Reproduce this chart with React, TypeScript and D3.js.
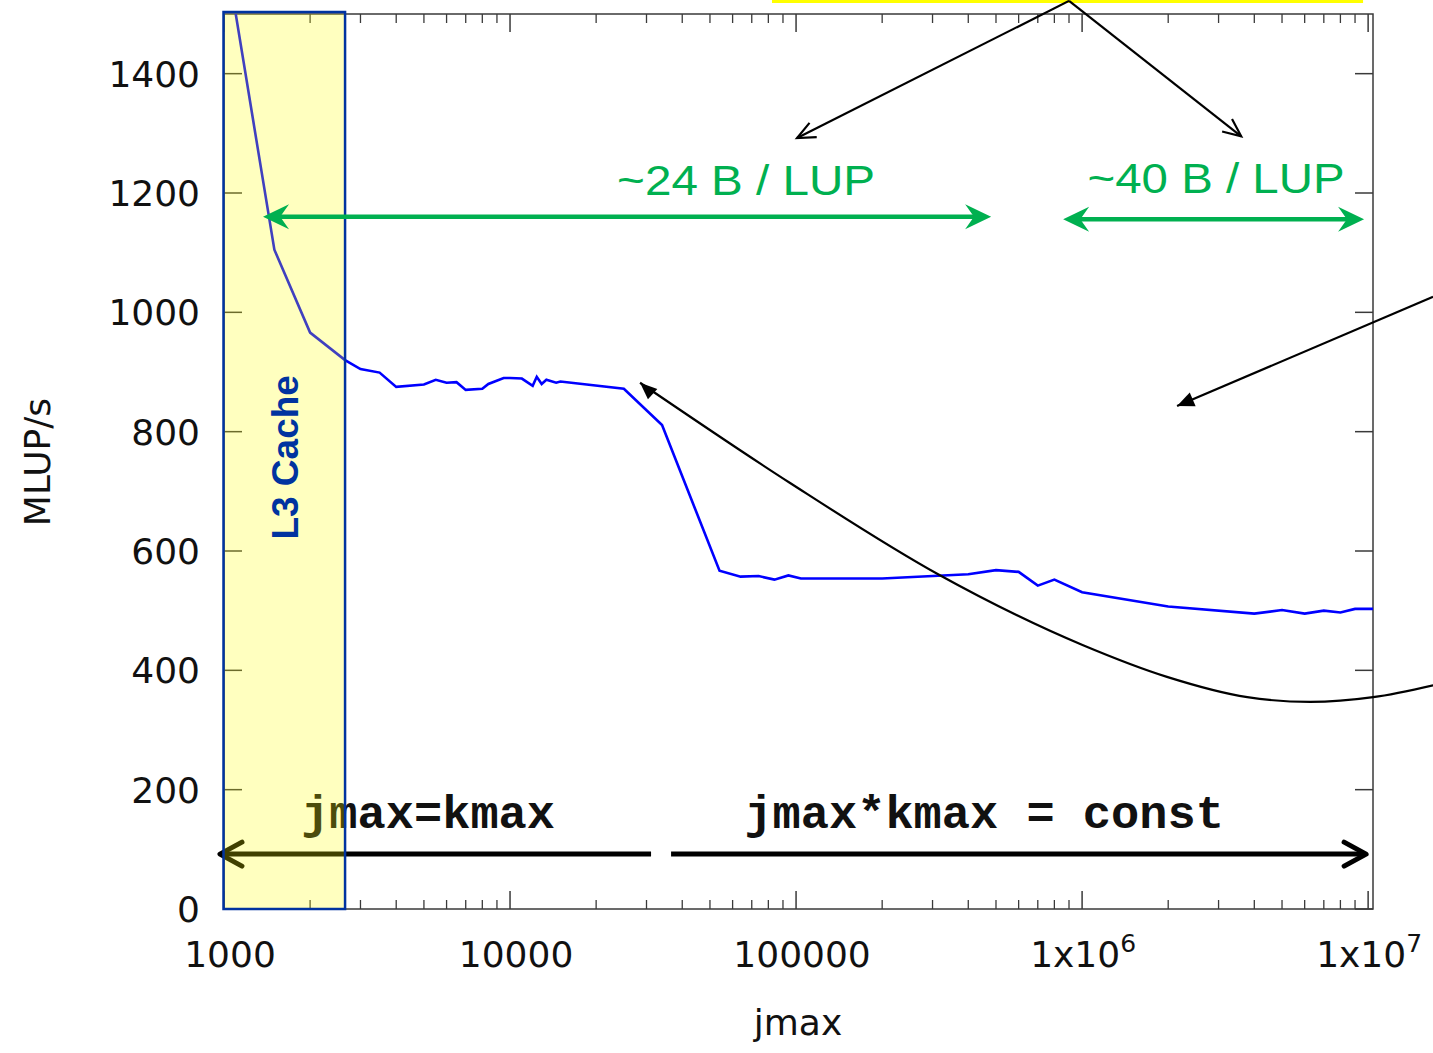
import React from 'react';
import * as d3 from 'd3';

// measured performance vs. inner loop length
const jmax = [
  1000, 1500, 2000, 2650, 3000, 3500, 4000, 5000, 5500, 6000, 6500, 7000, 8000, 8400, 9500,
  10000, 11000, 12000, 12400, 12900, 13400, 14500, 15000, 25000, 34000, 54000, 64000, 74000,
  84000, 94000, 104000, 200000, 400000, 500000, 600000, 700000, 800000, 1000000, 2000000,
  4000000, 5000000, 6000000, 7000000, 8000000, 9000000, 10400000,
];
const mlups = [
  1620, 1105, 966, 920, 905, 899, 875, 879, 887, 882, 883, 870, 872, 880, 890,
  890, 889, 877, 892, 880, 887, 882, 884, 872, 811, 567, 557, 558,
  552, 559, 554, 554, 561, 568, 565, 542, 552, 531, 507,
  495, 501, 495, 500, 497, 503, 503,
];

const xTickValues = [1000, 10000, 100000, 1000000, 10000000];
const xTickLabels = ['1000', '10000', '100000', '1x10^6', '1x10^7'];
const yTickValues = [0, 200, 400, 600, 800, 1000, 1200, 1400];

// annotations, in data units (jmax, MLUP/s)
const cacheLimit = 2650;
const curveJmax = [28480, 95300, 313700, 1008000, 1980000, 3780000, 6270000, 10410000, 16870000];
const curveMlups = [882, 714, 561, 442, 389, 355, 347, 355, 375];
const pointerFrom = [16870000, 1026];
const pointerTo = [2148000, 843];
const forkFrom = [900500, 1522];
const forkLeft = [100800, 1292];
const forkRight = [3600000, 1295];
const green24 = { from: 1369, to: 480800, y: 1160, label: '~24 B / LUP', cx: 66900, ty: 1197, len: 258 };
const green40 = { from: 858500, to: 9680000, y: 1156, label: '~40 B / LUP', cx: 2940000, ty: 1200, len: 257 };
const bottomLeft = { from: 968, to: 31120, y: 92, label: 'jmax=kmax', cx: 5170 };
const bottomRight = { from: 36560, to: 9840000, y: 92, label: 'jmax*kmax = const', cx: 454500 };
const bottomTextY = 136;

const W = 1433;
const H = 1053;
const x = d3.scaleLog().domain([1000, 1.04e7]).range([224, 1373]);
const y = d3.scaleLinear().domain([0, 1500]).range([909, 14]);

type P = [number, number];

function head(tip: P, from: P, len: number, half: number, kind: 'fill' | 'open' | 'stealth') {
  const dx = tip[0] - from[0];
  const dy = tip[1] - from[1];
  const d = Math.hypot(dx, dy) || 1;
  const ux = dx / d, uy = dy / d;
  const nx = -uy, ny = ux;
  const bx = tip[0] - ux * len, by = tip[1] - uy * len;
  const p1: P = [bx + nx * half, by + ny * half];
  const p2: P = [bx - nx * half, by - ny * half];
  if (kind === 'open') return `M${p1[0]},${p1[1]}L${tip[0]},${tip[1]}L${p2[0]},${p2[1]}`;
  if (kind === 'stealth') {
    const n: P = [tip[0] - ux * len * 0.66, tip[1] - uy * len * 0.66];
    return `M${tip[0]},${tip[1]}L${p1[0]},${p1[1]}L${n[0]},${n[1]}L${p2[0]},${p2[1]}Z`;
  }
  return `M${tip[0]},${tip[1]}L${p1[0]},${p1[1]}L${p2[0]},${p2[1]}Z`;
}

const GreenArrow = ({ a }: { a: typeof green24 }) => {
  const l: P = [x(a.from), y(a.y)];
  const r: P = [x(a.to), y(a.y)];
  const c = '#00b050';
  return (
    <g>
      <line x1={l[0] + 16} y1={l[1]} x2={r[0] - 16} y2={r[1]} stroke={c} strokeWidth={4.5} />
      <path d={head(l, r, 26, 12.5, 'stealth')} fill={c} />
      <path d={head(r, l, 26, 12.5, 'stealth')} fill={c} />
      <text
        x={x(a.cx)}
        y={y(a.ty)}
        textAnchor="middle"
        fontFamily="'Liberation Sans', Arial, sans-serif"
        fontSize={43}
        fill={c}
        textLength={a.len}
        lengthAdjust="spacingAndGlyphs"
      >
        {a.label}
      </text>
    </g>
  );
};

export default function App() {
  const line = d3.line<number>().x((_, i) => x(jmax[i])).y(d => y(d));
  const curve = d3.line<number>().x((_, i) => x(curveJmax[i])).y(d => y(d)).curve(d3.curveMonotoneX);

  const minor: number[] = [];
  for (let e = 3; e <= 7; e++) {
    for (let k = 2; k <= 9; k++) {
      const v = k * Math.pow(10, e);
      if (v <= 1.04e7) minor.push(v);
    }
  }

  const axisColor = '#3a3a3a';
  const left = x.range()[0], right = x.range()[1];
  const top = y.range()[1], bottom = y.range()[0];

  const curveTip: P = [x(curveJmax[0]), y(curveMlups[0])];
  const curveNext: P = [x(curveJmax[0] * 1.1), y(curveMlups[0] - 18)];

  const pf: P = [x(pointerFrom[0]), y(pointerFrom[1])];
  const pt: P = [x(pointerTo[0]), y(pointerTo[1])];
  const ff: P = [x(forkFrom[0]), y(forkFrom[1])];
  const fl: P = [x(forkLeft[0]), y(forkLeft[1])];
  const fr: P = [x(forkRight[0]), y(forkRight[1])];

  const bl1: P = [x(bottomLeft.from), y(bottomLeft.y)];
  const bl2: P = [x(bottomLeft.to), y(bottomLeft.y)];
  const br1: P = [x(bottomRight.from), y(bottomRight.y)];
  const br2: P = [x(bottomRight.to), y(bottomRight.y)];

  const tickFont = "'DejaVu Sans', sans-serif";

  return (
    <svg width={W} height={H} style={{ position: 'absolute', left: 0, top: 0, background: '#fff' }}>
      <defs>
        <clipPath id="plot">
          <rect x={left} y={top} width={right - left} height={bottom - top} />
        </clipPath>
      </defs>
      <rect width={W} height={H} fill="#fff" />

      {/* highlight bar at the top edge */}
      <rect x={x(82400)} y={0} width={x(9.6e6) - x(82400)} height={3} fill="#ffff00" />

      {/* frame and ticks */}
      <rect x={left} y={top} width={right - left} height={bottom - top} fill="none" stroke={axisColor} strokeWidth={1.5} />
      {yTickValues.map(v => (
        <g key={v}>
          <line x1={left} x2={left + 18} y1={y(v)} y2={y(v)} stroke={axisColor} strokeWidth={1.5} />
          <line x1={right} x2={right - 18} y1={y(v)} y2={y(v)} stroke={axisColor} strokeWidth={1.5} />
          <text x={200} y={y(v)} dy="0.36em" textAnchor="end" fontFamily={tickFont} fontSize={36} fill="#111">
            {v}
          </text>
        </g>
      ))}
      {xTickValues.map((v, i) => {
        const [base, sup] = xTickLabels[i].split('^');
        return (
          <g key={v}>
            <line x1={x(v)} x2={x(v)} y1={bottom} y2={bottom - 18} stroke={axisColor} strokeWidth={1.5} />
            <line x1={x(v)} x2={x(v)} y1={top} y2={top + 18} stroke={axisColor} strokeWidth={1.5} />
            <text x={x(v) + (sup ? 1 : 6)} y={967} textAnchor="middle" fontFamily={tickFont} fontSize={36} fill="#111">
              {base}
              {sup && (
                <tspan fontSize={25} dy={-15}>
                  {sup}
                </tspan>
              )}
            </text>
          </g>
        );
      })}
      {minor.map(v => (
        <g key={v}>
          <line x1={x(v)} x2={x(v)} y1={bottom} y2={bottom - 9} stroke={axisColor} strokeWidth={1.3} />
          <line x1={x(v)} x2={x(v)} y1={top} y2={top + 9} stroke={axisColor} strokeWidth={1.3} />
        </g>
      ))}

      <text x={37} y={462} transform="rotate(-90 37 462)" textAnchor="middle" dy="0.35em" fontFamily={tickFont} fontSize={36} fill="#111">
        MLUP/s
      </text>
      <text x={798} y={1035} textAnchor="middle" fontFamily={tickFont} fontSize={36} fill="#111">
        jmax
      </text>

      {/* measured data */}
      <path d={line(mlups) || ''} fill="none" stroke="#0000ff" strokeWidth={2.6} clipPath="url(#plot)" />

      {/* black annotations */}
      <path d={curve(curveMlups) || ''} fill="none" stroke="#000" strokeWidth={2.2} />
      <path d={head(curveTip, curveNext, 17, 7, 'fill')} fill="#000" />
      <line x1={pf[0]} y1={pf[1]} x2={pt[0]} y2={pt[1]} stroke="#000" strokeWidth={2.2} />
      <path d={head(pt, pf, 17, 7.5, 'fill')} fill="#000" />
      <line x1={ff[0]} y1={ff[1]} x2={fl[0]} y2={fl[1]} stroke="#000" strokeWidth={2.2} />
      <line x1={ff[0]} y1={ff[1]} x2={fr[0]} y2={fr[1]} stroke="#000" strokeWidth={2.2} />
      <path d={head(fl, ff, 18, 8, 'open')} fill="none" stroke="#000" strokeWidth={2.2} />
      <path d={head(fr, ff, 18, 8, 'open')} fill="none" stroke="#000" strokeWidth={2.2} />

      <line x1={bl1[0] + 2} y1={bl1[1]} x2={bl2[0]} y2={bl2[1]} stroke="#000" strokeWidth={5} />
      <path d={head(bl1, bl2, 22, 12, 'open')} fill="none" stroke="#000" strokeWidth={5} strokeLinecap="round" strokeLinejoin="round" />
      <line x1={br1[0]} y1={br1[1]} x2={br2[0] - 2} y2={br2[1]} stroke="#000" strokeWidth={5} />
      <path d={head(br2, br1, 22, 12, 'open')} fill="none" stroke="#000" strokeWidth={5} strokeLinecap="round" strokeLinejoin="round" />
      {[bottomLeft, bottomRight].map(b => (
        <text
          key={b.label}
          x={x(b.cx)}
          y={y(bottomTextY)}
          textAnchor="middle"
          fontFamily="'Liberation Mono', 'Courier New', monospace"
          fontWeight="bold"
          fontSize={47}
          fill="#111"
          style={{ whiteSpace: 'pre' }}
        >
          {b.label}
        </text>
      ))}

      {/* L3 cache region */}
      <rect x={x(1000)} y={y(1500)} width={x(cacheLimit) - x(1000)} height={y(0) - y(1500)} fill="#ffff00" fillOpacity={0.25} />
      <rect x={x(1000) - 0.5} y={y(1500) - 2} width={x(cacheLimit) - x(1000) + 0.5} height={y(0) - y(1500) + 2} fill="none" stroke="#0033a0" strokeWidth={2.5} />
      <text
        x={x(1634)}
        y={y(757)}
        transform={`rotate(-90 ${x(1634)} ${y(757)})`}
        textAnchor="middle"
        dy="0.36em"
        fontFamily="'Liberation Sans', Arial, sans-serif"
        fontWeight="bold"
        fontSize={37}
        fill="#0033a0"
      >
        L3 Cache
      </text>

      <GreenArrow a={green24} />
      <GreenArrow a={green40} />
    </svg>
  );
}
